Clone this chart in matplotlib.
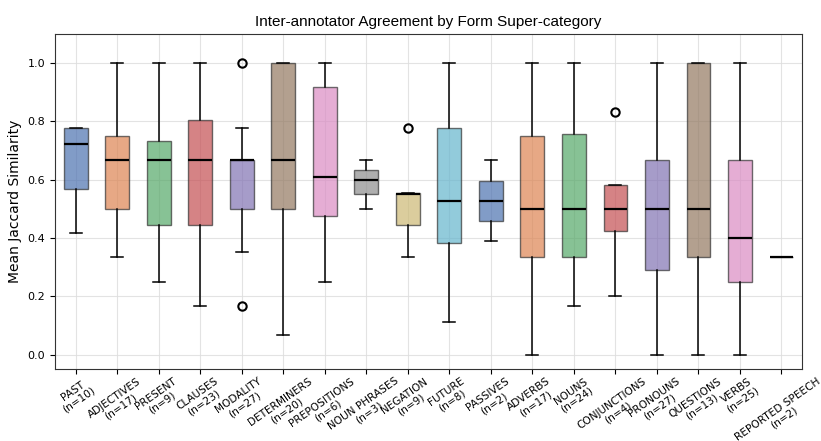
import numpy as np
import matplotlib.pyplot as plt
import seaborn as sns

categories = ["PAST", "ADJECTIVES", "PRESENT", "CLAUSES", "MODALITY", "DETERMINERS",
              "PREPOSITIONS", "NOUN PHRASES", "NEGATION", "FUTURE", "PASSIVES", "ADVERBS",
              "NOUNS", "CONJUNCTIONS", "PRONOUNS", "QUESTIONS", "VERBS", "REPORTED SPEECH"]
counts = [10, 17, 9, 23, 27, 20, 6, 3, 9, 8, 2, 17, 24, 4, 27, 13, 25, 2]

# box statistics
whislo = [0.417, 0.333, 0.25, 0.167, 0.353, 0.068, 0.25, 0.5, 0.333, 0.111, 0.389, 0.0,
          0.167, 0.2, 0.0, 0.0, 0.0, 0.333]
q1 = [0.567, 0.5, 0.444, 0.444, 0.5, 0.5, 0.476, 0.55, 0.444, 0.382, 0.458, 0.333,
      0.333, 0.424, 0.289, 0.333, 0.25, 0.333]
med = [0.722, 0.667, 0.667, 0.667, 0.667, 0.667, 0.61, 0.6, 0.55, 0.526, 0.526, 0.5,
       0.5, 0.5, 0.5, 0.5, 0.4, 0.333]
q3 = [0.778, 0.75, 0.733, 0.806, 0.667, 1.0, 0.917, 0.633, 0.556, 0.778, 0.595, 0.75,
      0.756, 0.583, 0.667, 1.0, 0.667, 0.333]
whishi = [0.778, 1.0, 1.0, 1.0, 0.778, 1.0, 1.0, 0.667, 0.556, 1.0, 0.667, 1.0,
          1.0, 0.583, 1.0, 1.0, 1.0, 0.333]
fliers = [[], [], [], [], [1.0, 0.167], [], [], [], [0.778], [], [], [],
          [], [0.833], [], [], [], []]

stats = []
for i, c in enumerate(categories):
    stats.append(dict(label=f"{c}\n(n={counts[i]})", whislo=whislo[i], q1=q1[i], med=med[i],
                      q3=q3[i], whishi=whishi[i], fliers=fliers[i]))

fig = plt.figure(figsize=(8.21, 4.41), dpi=100)
ax = fig.add_axes([0.067, 0.163, 0.91, 0.76])

bp = ax.bxp(stats, patch_artist=True, widths=0.57,
            medianprops=dict(color='black', linewidth=1.6),
            whiskerprops=dict(color='black', linewidth=1.1),
            capprops=dict(color='black', linewidth=1.1),
            flierprops=dict(marker='o', markerfacecolor='none', markeredgecolor='black',
                            markersize=6, markeredgewidth=1.5))

palette = sns.color_palette("deep", 10)
for i, patch in enumerate(bp['boxes']):
    patch.set_facecolor(palette[i % 10])
    patch.set_edgecolor('#333333')
    patch.set_alpha(0.7)

ax.set_xlim(0.5, len(categories) + 0.5)
ax.set_ylim(-0.05, 1.1)
ax.set_yticks([0.0, 0.2, 0.4, 0.6, 0.8, 1.0])
ax.grid(True, color='#dddddd', linewidth=0.8, alpha=0.8)
ax.set_axisbelow(True)
for s in ax.spines.values():
    s.set_color('#333333')
plt.setp(ax.get_xticklabels(), rotation=35, ha='center', fontsize=7.6, linespacing=1.1)
ax.tick_params(axis='x', pad=1.5)
ax.tick_params(axis='y', labelsize=8)
ax.set_ylabel("Mean Jaccard Similarity", fontsize=10)
ax.set_title("Inter-annotator Agreement by Form Super-category", fontsize=11,
             family='Liberation Sans')

fig.savefig("out.png", dpi=100)
